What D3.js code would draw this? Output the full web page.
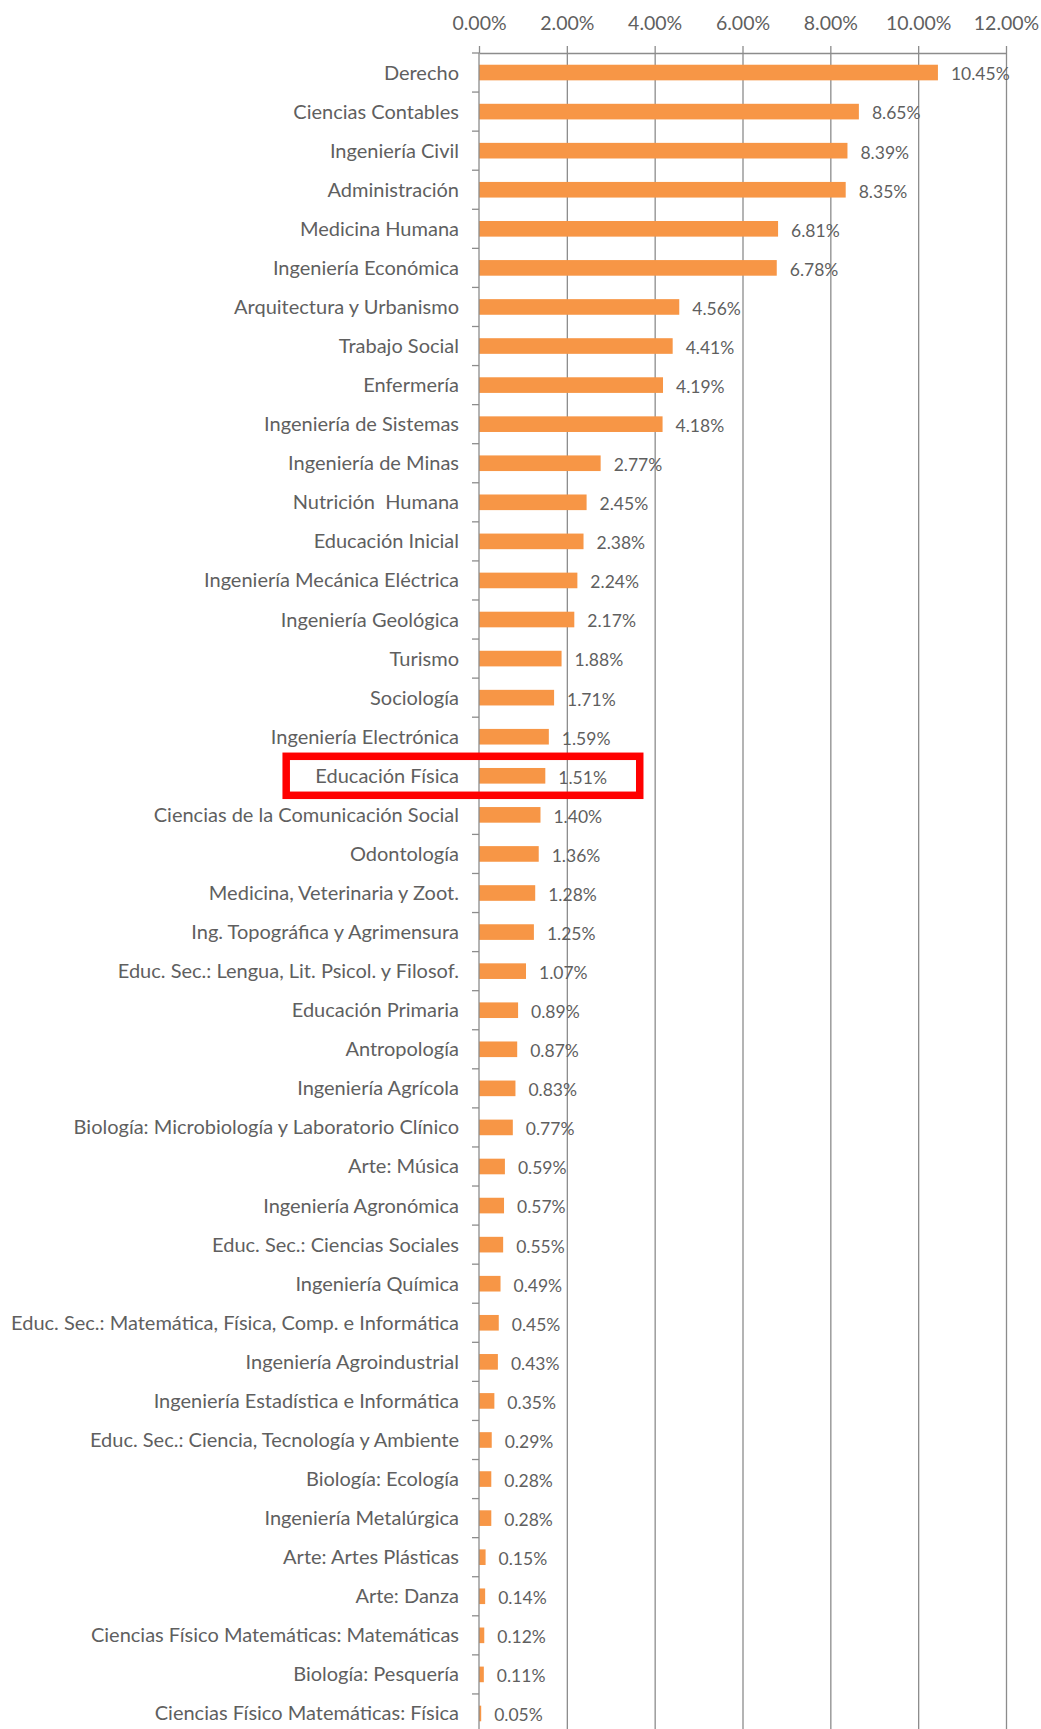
<!DOCTYPE html>
<html>
<head>
<meta charset="utf-8">
<script src="https://cdn.jsdelivr.net/npm/d3@7"></script>
<style>
  html, body { margin: 0; padding: 0; background: #fff; }
  svg text { font-family: Lato, "Open Sans", sans-serif; fill: #5f5f5f; white-space: pre; }
</style>
</head>
<body>
<div id="container"></div>
<script>
/* CONSTANTS AND GLOBALS */
const width = 1041;
const height = 1729;
const margin = { top: 53, left: 479, right: 35 };
const rowStep = 39.07;

/* DATA */
const categories = [
  "Derecho", "Ciencias Contables", "Ingeniería Civil", "Administración",
  "Medicina Humana", "Ingeniería Económica", "Arquitectura y Urbanismo",
  "Trabajo Social", "Enfermería", "Ingeniería de Sistemas", "Ingeniería de Minas",
  "Nutrición  Humana", "Educación Inicial", "Ingeniería Mecánica Eléctrica",
  "Ingeniería Geológica", "Turismo", "Sociología", "Ingeniería Electrónica",
  "Educación Física", "Ciencias de la Comunicación Social", "Odontología",
  "Medicina, Veterinaria y Zoot.", "Ing. Topográfica y Agrimensura",
  "Educ. Sec.: Lengua, Lit. Psicol. y Filosof.", "Educación Primaria",
  "Antropología", "Ingeniería Agrícola",
  "Biología: Microbiología y Laboratorio Clínico", "Arte: Música",
  "Ingeniería Agronómica", "Educ. Sec.: Ciencias Sociales", "Ingeniería Química",
  "Educ. Sec.: Matemática, Física, Comp. e Informática",
  "Ingeniería Agroindustrial", "Ingeniería Estadística e Informática",
  "Educ. Sec.: Ciencia, Tecnología y Ambiente", "Biología: Ecología",
  "Ingeniería Metalúrgica", "Arte: Artes Plásticas", "Arte: Danza",
  "Ciencias Físico Matemáticas: Matemáticas", "Biología: Pesquería",
  "Ciencias Físico Matemáticas: Física"
];
const shares = [
  10.45, 8.65, 8.39, 8.35, 6.81, 6.78, 4.56, 4.41, 4.19, 4.18, 2.77,
  2.45, 2.38, 2.24, 2.17, 1.88, 1.71, 1.59, 1.51, 1.40, 1.36,
  1.28, 1.25, 1.07, 0.89, 0.87, 0.83, 0.77, 0.59, 0.57, 0.55, 0.49,
  0.45, 0.43, 0.35, 0.29, 0.28, 0.28, 0.15, 0.14, 0.12, 0.11, 0.05
];
const xTicks = [0, 2, 4, 6, 8, 10, 12];
const highlighted = "Educación Física";

const data = categories.map((c, i) => ({ category: c, share: shares[i] }));

/* SCALES */
const xScale = d3.scaleLinear()
  .domain([0, 12])
  .range([margin.left, width - margin.right]);

const yScale = d3.scaleBand()
  .domain(categories)
  .range([margin.top, margin.top + rowStep * categories.length])
  .paddingInner(0.6)
  .paddingOuter(0.3);

const bottom = margin.top + rowStep * categories.length;
const fmt = d => d.toFixed(2) + "%";

/* SVG */
const svg = d3.select("#container")
  .append("svg")
  .attr("width", width)
  .attr("height", height);

// gridlines
svg.append("g")
  .attr("transform", `translate(0, ${margin.top})`)
  .call(d3.axisTop(xScale).tickValues(xTicks.slice(1)).tickSizeInner(-(bottom - margin.top)).tickSizeOuter(0).tickFormat(""))
  .call(g => g.select(".domain").remove())
  .call(g => g.selectAll("line").attr("stroke", "#8c8c8c").attr("stroke-width", 1.3));

// x axis (top)
svg.append("g")
  .attr("transform", `translate(0, ${margin.top})`)
  .call(d3.axisTop(xScale).tickValues(xTicks).tickSizeInner(7).tickSizeOuter(0).tickPadding(16).tickFormat(fmt))
  .call(g => g.select(".domain").attr("stroke", "#8c8c8c").attr("stroke-width", 1.3))
  .call(g => g.selectAll("line").attr("stroke", "#8c8c8c").attr("stroke-width", 1.3))
  .call(g => g.selectAll("text").style("font-size", "19.5px").style("fill", "#5f5f5f"));

// bars
svg.selectAll(".bar")
  .data(data)
  .join("rect")
  .attr("class", "bar")
  .attr("x", xScale(0))
  .attr("y", d => yScale(d.category))
  .attr("width", d => xScale(d.share) - xScale(0))
  .attr("height", yScale.bandwidth())
  .attr("fill", "#f79646");

// y axis line and boundary ticks
const pad = yScale.step() * yScale.paddingInner() / 2;
svg.append("line")
  .attr("x1", xScale(0)).attr("x2", xScale(0))
  .attr("y1", margin.top).attr("y2", bottom)
  .attr("stroke", "#8c8c8c").attr("stroke-width", 1.3);

svg.selectAll(".ytick")
  .data(categories)
  .join("line")
  .attr("class", "ytick")
  .attr("x1", xScale(0) - 7).attr("x2", xScale(0))
  .attr("y1", d => yScale(d) - pad)
  .attr("y2", d => yScale(d) - pad)
  .attr("stroke", "#8c8c8c").attr("stroke-width", 1.3);

// category labels
svg.selectAll(".cat")
  .data(data)
  .join("text")
  .attr("class", "cat")
  .attr("x", xScale(0) - 20)
  .attr("y", d => yScale(d.category) + yScale.bandwidth() / 2)
  .attr("dy", "0.35em")
  .attr("text-anchor", "end")
  .style("font-size", "20px")
  .text(d => d.category);

// value labels
svg.selectAll(".val")
  .data(data)
  .join("text")
  .attr("class", "val")
  .attr("x", d => xScale(d.share) + 13)
  .attr("y", d => yScale(d.category) + yScale.bandwidth() / 2)
  .attr("dy", "0.45em")
  .style("font-size", "17.5px")
  .text(d => fmt(d.share));

// highlight box
const hy = yScale(highlighted) + yScale.bandwidth() / 2;
svg.append("rect")
  .attr("x", xScale(-4.39))
  .attr("y", hy - 19.5)
  .attr("width", xScale(3.66) - xScale(-4.39))
  .attr("height", 39)
  .attr("fill", "none")
  .attr("stroke", "#ff0000")
  .attr("stroke-width", 7.5);
</script>
</body>
</html>
